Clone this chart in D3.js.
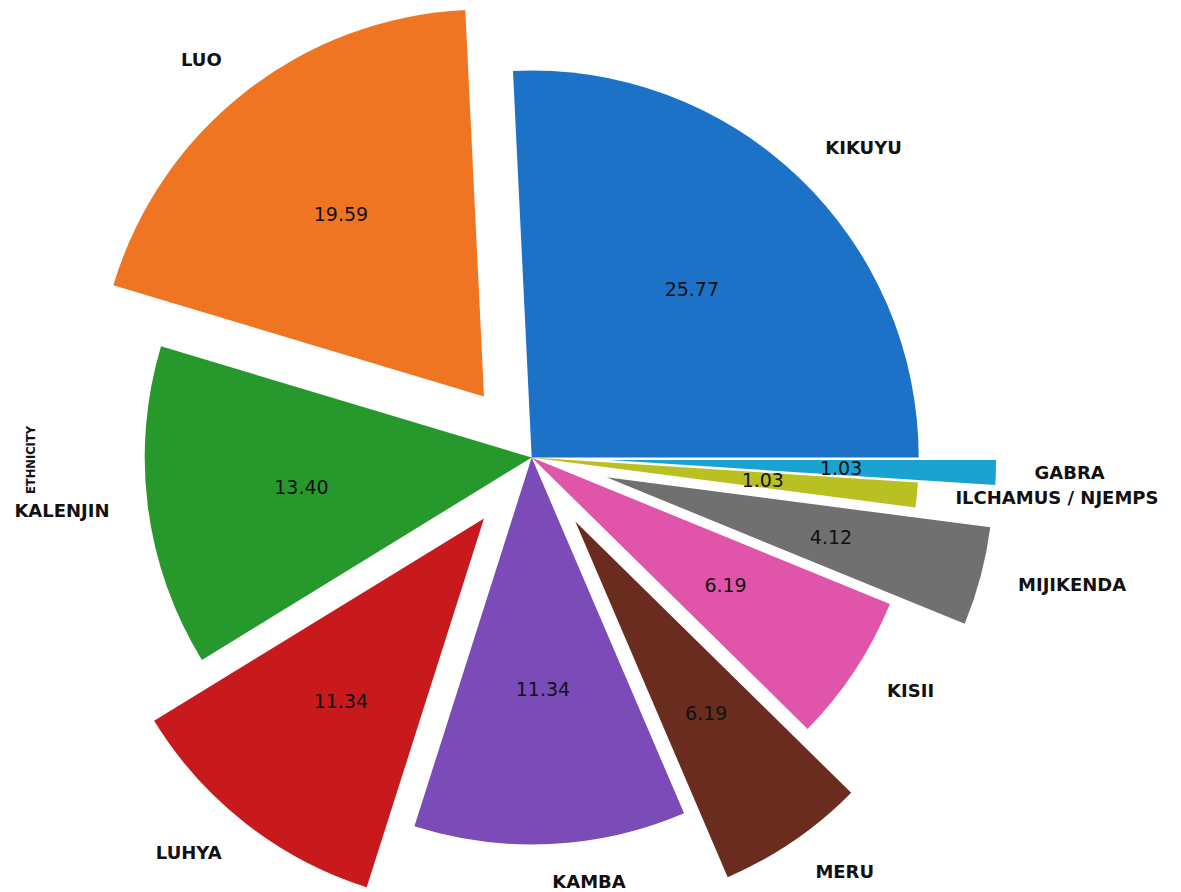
<!DOCTYPE html>
<html>
<head>
<meta charset="utf-8">
<script src="https://cdn.jsdelivr.net/npm/d3@7"></script>
<style>
  html, body { margin: 0; padding: 0; background: #ffffff; }
  svg { display: block; }
  .cat { font-family: "DejaVu Sans", sans-serif; font-weight: bold; font-size: 18px; fill: #111; }
  .pct { font-family: "DejaVu Sans", sans-serif; font-size: 19px; fill: #111; }
  .ylab { font-family: "DejaVu Sans", sans-serif; font-weight: bold; font-size: 11.5px; fill: #111; }
</style>
</head>
<body>
<script>
// Ethnicity shares (%) drawn as an exploded pie, counter-clockwise from 3 o'clock
const categories = ["KIKUYU", "LUO", "KALENJIN", "LUHYA", "KAMBA", "MERU", "KISII", "MIJIKENDA", "ILCHAMUS / NJEMPS", "GABRA"];
const values = [25.77, 19.59, 13.40, 11.34, 11.34, 6.19, 6.19, 4.12, 1.03, 1.03];
const explode = [0, 0.2, 0, 0.2, 0, 0.2, 0, 0.2, 0, 0.2];
const colors = ["#1c72c6", "#f07522", "#27982c", "#c81a1c", "#7b4cb8", "#6b2c20", "#e055aa", "#707070", "#b9c122", "#1ba2d0"];
const yLabel = "ETHNICITY";

const W = 1181, H = 892;
const cx = 531.7, cy = 457.5, R = 387;
const labelDistance = 1.1, pctDistance = 0.6;

const svg = d3.select("body").append("svg").attr("width", W).attr("height", H);

const rows = categories.map((c, i) => ({ name: c, value: values[i], explode: explode[i], color: colors[i] }));

// start at 3 o'clock (pi/2 in d3 terms) and run counter-clockwise
const pie = d3.pie().sort(null).value(d => d.value)
  .startAngle(Math.PI / 2).endAngle(Math.PI / 2 - 2 * Math.PI);
const arcs = pie(rows);

const rScale = d3.scaleLinear().domain([0, 1]).range([0, R]);
const arc = d3.arc().innerRadius(0).outerRadius(rScale(1));

const fmt = d3.format(".2f");
const dir = a => [Math.sin(a), -Math.cos(a)];

const g = svg.append("g").attr("transform", `translate(${cx},${cy})`);

arcs.forEach(a => {
  const mid = (a.startAngle + a.endAngle) / 2;
  const [ux, uy] = dir(mid);
  const off = rScale(a.data.explode);
  const ox = ux * off, oy = uy * off;

  g.append("path")
    .attr("d", arc(a))
    .attr("transform", `translate(${ox},${oy})`)
    .attr("fill", a.data.color);

  const lr = rScale(labelDistance);
  g.append("text").attr("class", "cat")
    .attr("x", ox + ux * lr)
    .attr("y", oy + uy * lr - 1.5)
    .attr("text-anchor", ux > 0 ? "start" : "end")
    .attr("dominant-baseline", "central")
    .text(a.data.name);

  const pr = rScale(pctDistance);
  g.append("text").attr("class", "pct")
    .attr("x", ox + ux * pr)
    .attr("y", oy + uy * pr)
    .attr("text-anchor", "middle")
    .attr("dominant-baseline", "central")
    .text(fmt(a.data.value));
});

svg.append("text").attr("class", "ylab")
  .attr("transform", `translate(35,460) rotate(-90)`)
  .attr("text-anchor", "middle")
  .text(yLabel);
</script>
</body>
</html>
